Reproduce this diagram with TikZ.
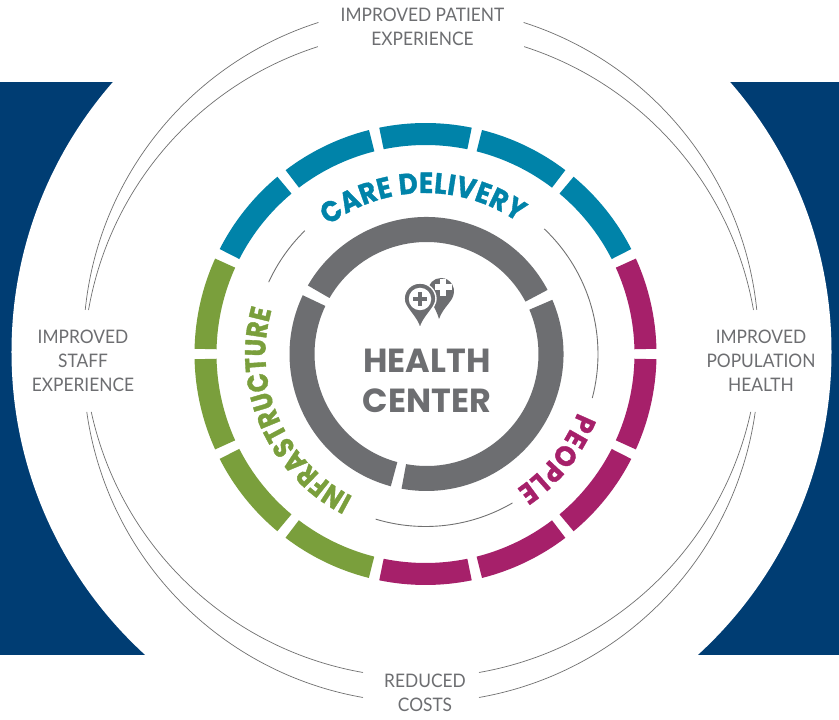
\documentclass[tikz,border=0pt]{standalone}
\usepackage{fontspec}
\setmainfont{Poppins}
\newfontfamily\labelfont[FakeStretch=0.93]{Lato}
\newfontfamily\arcfont[FakeStretch=0.9,BoldFeatures={FakeBold=1.2}]{Poppins}
\newfontfamily\longarcfont[FakeStretch=0.85,BoldFeatures={FakeBold=1.2}]{Poppins}
\usetikzlibrary{decorations.text}
\definecolor{navyback}{HTML}{003D73}
\definecolor{caregreen}{HTML}{7A9F3C}
\definecolor{careteal}{HTML}{0083A9}
\definecolor{caremagenta}{HTML}{A6206A}
\definecolor{centergray}{HTML}{6D6E71}
\definecolor{linegray}{HTML}{707070}
\tikzset{
  outcome/.style={text=centergray,align=center,font=\labelfont\fontsize{10.6}{13.65}\selectfont},
  thinarc/.style={draw=linegray,line width=0.4pt},
  curvedlabel/.style={decorate,decoration={text along path,text align=fit to path,text={#1}}}
}
\begin{document}
\begin{tikzpicture}
\useasboundingbox (-8.51,-7.30) rectangle (8.27,7.08);
\fill[navyback] (-8.51,5.44) rectangle (8.27,-6.02);
\fill[white] (-0.08,0.04) circle (8.2);
\draw[thinarc] (-0.09,0.20)+(107.7:6.75) arc (107.7:174.2:6.75);
\draw[thinarc] (-0.09,0.20)+(72.3:6.75) arc (72.3:5.8:6.75);
\draw[thinarc] (-0.09,-0.28)+(107.8:6.75) arc (107.8:170.1:6.75);
\draw[thinarc] (-0.09,-0.28)+(72.2:6.75) arc (72.2:9.9:6.75);
\draw[thinarc] (-0.09,-0.22)+(260.1:6.75) arc (260.1:188:6.75);
\draw[thinarc] (-0.09,-0.22)+(279.9:6.75) arc (279.9:352:6.75);
\draw[thinarc] (-0.09,0.28)+(260.1:6.75) arc (260.1:192.3:6.75);
\draw[thinarc] (-0.09,0.28)+(279.9:6.75) arc (279.9:347.7:6.75);
\fill[careteal] (78.45:4.62) arc (78.45:101.55:4.62) -- (101.55:4.18) arc (101.55:78.45:4.18) -- cycle;
\fill[careteal] (104.16:4.62) arc (104.16:127.26:4.62) -- (127.26:4.18) arc (127.26:104.16:4.18) -- cycle;
\fill[careteal] (129.88:4.62) arc (129.88:152.98:4.62) -- (152.98:4.18) arc (152.98:129.88:4.18) -- cycle;
\fill[careteal] (52.74:4.62) arc (52.74:75.84:4.62) -- (75.84:4.18) arc (75.84:52.74:4.18) -- cycle;
\fill[careteal] (27.02:4.62) arc (27.02:50.12:4.62) -- (50.12:4.18) arc (50.12:27.02:4.18) -- cycle;
\fill[caregreen] (155.6:4.62) arc (155.6:178.7:4.62) -- (178.7:4.18) arc (178.7:155.6:4.18) -- cycle;
\fill[caregreen] (181.3:4.62) arc (181.3:204.4:4.62) -- (204.4:4.18) arc (204.4:181.3:4.18) -- cycle;
\fill[caregreen] (207:4.62) arc (207:230.1:4.62) -- (230.1:4.18) arc (230.1:207:4.18) -- cycle;
\fill[caregreen] (232.7:4.62) arc (232.7:255.8:4.62) -- (255.8:4.18) arc (255.8:232.7:4.18) -- cycle;
\fill[caremagenta] (258.45:4.62) arc (258.45:281.55:4.62) -- (281.55:4.18) arc (281.55:258.45:4.18) -- cycle;
\fill[caremagenta] (284.16:4.62) arc (284.16:307.26:4.62) -- (307.26:4.18) arc (307.26:284.16:4.18) -- cycle;
\fill[caremagenta] (309.88:4.62) arc (309.88:332.98:4.62) -- (332.98:4.18) arc (332.98:309.88:4.18) -- cycle;
\fill[caremagenta] (335.6:4.62) arc (335.6:358.7:4.62) -- (358.7:4.18) arc (358.7:335.6:4.18) -- cycle;
\fill[caremagenta] (1.3:4.62) arc (1.3:24.4:4.62) -- (24.4:4.18) arc (24.4:1.3:4.18) -- cycle;
\draw[thinarc,line width=0.5pt] (134.4:3.45) arc (134.4:155.4:3.45);
\draw[thinarc,line width=0.5pt] (46.5:3.45) arc (46.5:-14.8:3.45);
\draw[thinarc,line width=0.5pt] (253.2:3.45) arc (253.2:300.3:3.45);
\fill[centergray,shift={(0.02,0)}] (27.9:2.74) arc (27.9:150:2.74) -- (150:2.24) arc (150:27.9:2.24) -- cycle;
\fill[centergray,shift={(0.02,0)}] (23.3:2.74) arc (23.3:-100.5:2.74) -- (-100.5:2.24) arc (-100.5:23.3:2.24) -- cycle;
\fill[centergray,shift={(0.02,0)}] (154.6:2.74) arc (154.6:254.9:2.74) -- (254.9:2.24) arc (254.9:154.6:2.24) -- cycle;
\path[curvedlabel={|\arcfont\bfseries\fontsize{16.5}{16.5}\selectfont\color{careteal}|CARE DELIVERY}] (127:3.22) arc (127:55:3.22);
\path[curvedlabel={|\longarcfont\bfseries\fontsize{16.5}{16.5}\selectfont\color{caregreen}|INFRASTRUCTURE}] (243:3.2) arc (243:164:3.2);
\path[curvedlabel={|\arcfont\bfseries\fontsize{16.5}{16.5}\selectfont\color{caremagenta}|PEOPLE}] (-21:3.26) arc (-21:-56:3.26);
\fill[centergray] (0.27,0.70) .. controls (0.2,0.95) and (0.05,1.1) .. (0.05,1.26) arc (180:-10:0.26) .. controls (0.55,1.05) and (0.36,0.95) .. (0.27,0.70) -- cycle;
\fill[white] (0.29,1.16) rectangle (0.40,1.50);
\fill[white] (0.18,1.28) rectangle (0.52,1.39);
\fill[centergray,draw=white,line width=0.8pt] (-0.11,0.50) .. controls (-0.17,0.75) and (-0.43,0.92) .. (-0.43,1.10) arc (180:0:0.32) .. controls (0.21,0.92) and (-0.05,0.75) .. (-0.11,0.50) -- cycle;
\fill[white] (-0.11,1.10) circle (0.225);
\fill[centergray] (-0.155,0.96) rectangle (-0.065,1.24);
\fill[centergray] (-0.25,1.055) rectangle (0.03,1.145);
\node[text=centergray,align=center,font=\bfseries\fontsize{19}{22.75}\selectfont] (healthcenter) at (0.03,-0.54) {HEALTH\\CENTER};
\node[outcome] (patient) at (-0.06,6.55) {IMPROVED PATIENT\\EXPERIENCE};
\node[outcome] (staff) at (-6.85,-0.14) {IMPROVED\\STAFF\\EXPERIENCE};
\node[outcome] (population) at (6.71,-0.14) {IMPROVED\\POPULATION\\HEALTH};
\node[outcome] (costs) at (-0.01,-6.78) {REDUCED\\COSTS};
\end{tikzpicture}
\end{document}
